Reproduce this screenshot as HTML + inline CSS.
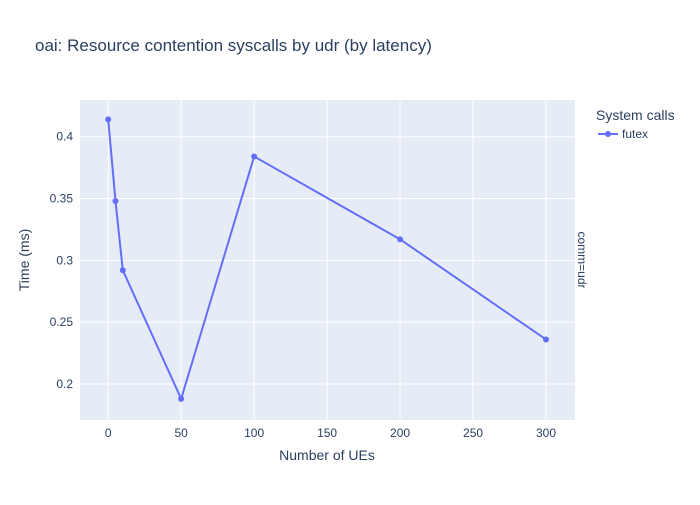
<!DOCTYPE html>
<html><head><meta charset="utf-8"><style>
body{margin:0;background:#fff;font-family:"Liberation Sans",Arial,sans-serif}
text{font-family:"Liberation Sans",Arial,sans-serif}
</style></head><body>
<svg id="chart" width="700" height="500" xmlns="http://www.w3.org/2000/svg">
<rect width="700" height="500" fill="#fff"/>
<text x="35" y="51" font-size="17" fill="#2a3f5f">oai: Resource contention syscalls by udr (by latency)</text>
<rect x="80" y="100" width="495" height="320" fill="#e5ecf6"/>
<g id="grid"></g>
<g id="series"></g>
<g id="ticks"></g>
<text x="327" y="460" font-size="14" fill="#2a3f5f" text-anchor="middle">Number of UEs</text>
<text transform="translate(29,260) rotate(-90)" font-size="14" fill="#2a3f5f" text-anchor="middle">Time (ms)</text>
<text transform="translate(578,260) rotate(90)" font-size="12" fill="#2a3f5f" text-anchor="middle">comm=udr</text>
<text x="596" y="120" font-size="14" fill="#2a3f5f">System calls</text>
<g>
<line x1="598" y1="134" x2="618" y2="134" stroke="#636efa" stroke-width="2"/>
<circle cx="608" cy="134" r="3" fill="#636efa"/>
<text x="622" y="138" font-size="12" fill="#2a3f5f">futex</text>
</g>
</svg>
<script>
const xValues=[0,5,10,50,100,200,300];
const yValues=[0.414,0.348,0.292,0.188,0.384,0.317,0.236];
const xTicks=[0,50,100,150,200,250,300];
const yTicks=[0.2,0.25,0.3,0.35,0.4];
const yTickLabels=["0.2","0.25","0.3","0.35","0.4"];
const L=80,R=575,T=100,B=420;
const sx=v=>108.2+(v-0)*(546-108.2)/300;
const sy=v=>384+(v-0.2)*(136.7-384)/0.2;
const NS="http://www.w3.org/2000/svg";
const grid=document.getElementById('grid'),ticks=document.getElementById('ticks'),series=document.getElementById('series');
function mk(tag,attrs,parent){const e=document.createElementNS(NS,tag);for(const k in attrs)e.setAttribute(k,attrs[k]);parent.appendChild(e);return e;}
xTicks.forEach(t=>{
 const g=mk('line',{x1:sx(t),x2:sx(t),y1:T,y2:B,stroke:'#fff','stroke-width':1},grid);
 
 
 const tx=mk('text',{x:sx(t),y:437,'font-size':12,fill:'#2a3f5f','text-anchor':'middle'},ticks);
 tx.textContent=t;
 
 
});
yTicks.forEach((t,i)=>{
 const g=mk('line',{x1:L,x2:R,y1:sy(t),y2:sy(t),stroke:'#fff','stroke-width':1},grid);
 
 
 const tx=mk('text',{x:73,y:sy(t)+4,'font-size':12,fill:'#2a3f5f','text-anchor':'end'},ticks);
 tx.textContent=yTickLabels[i];
 
 
});
const pts=xValues.map((x,i)=>sx(x)+','+sy(yValues[i])).join(' ');
const pl=mk('polyline',{points:pts,fill:'none',stroke:'#636efa','stroke-width':2,'stroke-linejoin':'round'},series);


xValues.forEach((x,i)=>{
 const c=mk('circle',{cx:sx(x),cy:sy(yValues[i]),r:3,fill:'#636efa'},series);
 
 
});
</script>
</body></html>
